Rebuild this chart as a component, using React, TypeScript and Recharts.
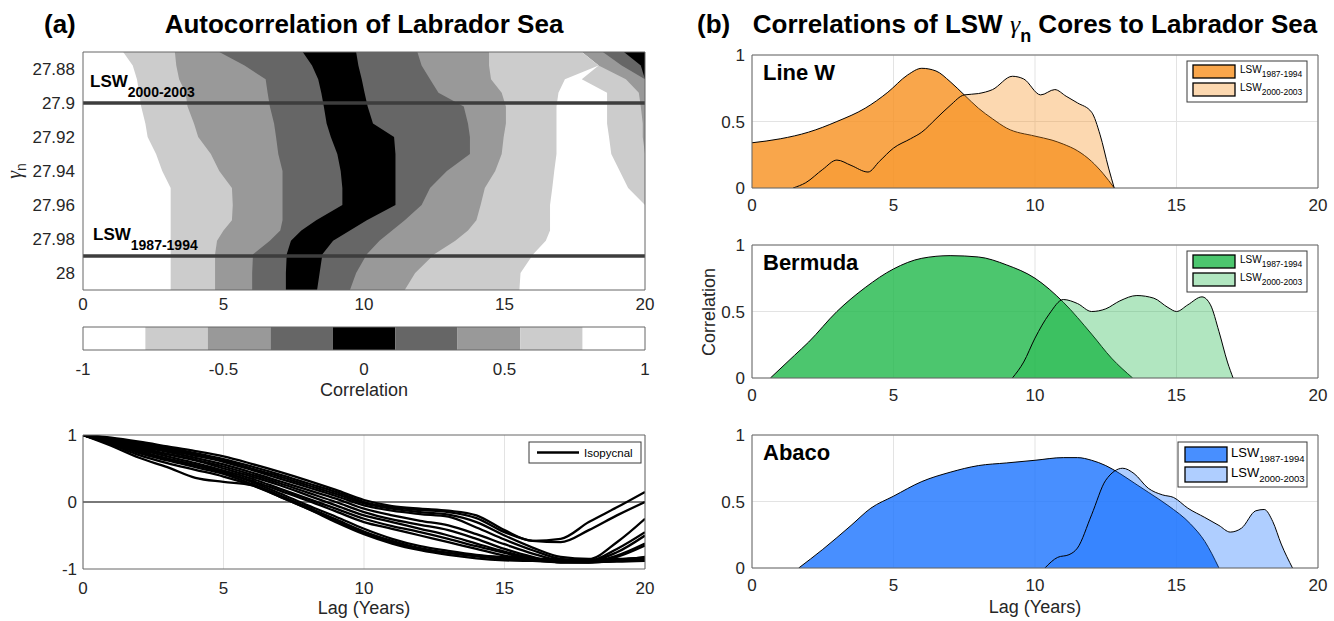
import React from 'react';
import {
  ComposedChart, LineChart, Area, Line, XAxis, YAxis,
  CartesianGrid, ReferenceLine,
} from 'recharts';

const FONT = '"Liberation Sans", Arial, Helvetica, sans-serif';
const SERIF = '"Liberation Serif", "DejaVu Serif", serif';
const FRAME = '#666666';
const INK = '#262626';
const tickFont = { fontSize: 17, fill: INK, fontFamily: FONT };

const WHITE = '#ffffff';
const LIGHT = '#cccccc';
const MID = '#999999';
const DARK = '#666666';
const BLACK = '#000000';

// ---- (a) autocorrelation contour: band edges (lag, years) along each density row ----
const gammaRows = [27.87, 27.878, 27.886, 27.894, 27.902, 27.912, 27.92, 27.93, 27.94, 27.95, 27.96, 27.969, 27.975, 27.981, 27.989, 28.0, 28.01];
const gammaTicks = [27.88, 27.9, 27.92, 27.94, 27.96, 27.98, 28];
const edgeWhiteLight = [1.43, 1.77, 1.92, 2.0, 2.07, 2.22, 2.3, 2.6, 2.82, 3.12, 3.12, 3.12, 3.12, 3.12, 3.12, 3.12, 3.12];
const edgeLightMid = [3.27, 3.32, 3.42, 3.65, 3.72, 3.95, 4.1, 4.55, 4.85, 5.3, 5.33, 5.3, 5.0, 4.77, 4.7, 4.7, 4.7];
const edgeMidDark = [4.85, 5.75, 6.5, 6.57, 6.65, 6.8, 6.87, 6.95, 7.1, 7.1, 7.1, 7.1, 7.02, 6.65, 6.05, 6.02, 6.02];
const edgeDarkBlack = [7.82, 8.15, 8.37, 8.48, 8.57, 8.67, 8.82, 9.05, 9.17, 9.23, 9.23, 8.3, 7.77, 7.4, 7.25, 7.22, 7.22];
const edgeBlackDark = [9.72, 9.8, 9.92, 10.02, 10.13, 10.32, 11.07, 11.12, 11.12, 11.12, 11.12, 10.1, 9.5, 8.9, 8.52, 8.42, 8.33];
const edgeDarkMid = [11.9, 12.05, 12.35, 12.65, 13.55, 13.7, 13.77, 13.77, 12.95, 12.35, 12.05, 11.45, 11.0, 10.55, 10.1, 9.72, 9.5];
const edgeMidLight = [14.45, 14.45, 14.52, 14.9, 15.05, 15.05, 14.97, 14.9, 14.67, 14.3, 14.15, 14.0, 13.7, 13.25, 12.5, 11.82, 11.45];
const edgeLightWhite = [17.75, 18.35, 17.15, 16.92, 16.85, 16.85, 16.85, 16.85, 16.77, 16.7, 16.62, 16.62, 16.62, 16.47, 16.02, 15.57, 15.53];
const edgeWhiteLight2 = [17.75, 18.35, 17.75, 18.65, 18.65, 18.65, 18.72, 18.8, 19.1, 19.4, 20, 20, 20, 20, 20, 20, 20];
const edgeLightMid2 = [17.75, 18.35, 19.32, 19.78, 19.85, 19.92, 19.92, 20, 20, 20, 20, 20, 20, 20, 20, 20, 20];
const edgeMidDark2 = [18.5, 19.17, 20, 20, 20, 20, 20, 20, 20, 20, 20, 20, 20, 20, 20, 20, 20];
const edgeDarkBlack2 = [19.25, 19.85, 20, 20, 20, 20, 20, 20, 20, 20, 20, 20, 20, 20, 20, 20, 20];

const contourRows = gammaRows.map((gamma, i) => ({
  gamma,
  full: 20,
  e1: edgeWhiteLight[i], e2: edgeLightMid[i], e3: edgeMidDark[i], e4: edgeDarkBlack[i],
  e5: edgeBlackDark[i], e6: edgeDarkMid[i], e7: edgeMidLight[i], e8: edgeLightWhite[i],
  e9: edgeWhiteLight2[i], e10: edgeLightMid2[i], e11: edgeMidDark2[i], e12: edgeDarkBlack2[i],
}));

// painted right-most first, each fills 0..edge with the colour left of that edge
const contourLayers = [
  { key: 'full', fill: BLACK }, { key: 'e12', fill: DARK }, { key: 'e11', fill: MID },
  { key: 'e10', fill: LIGHT }, { key: 'e9', fill: WHITE }, { key: 'e8', fill: LIGHT },
  { key: 'e7', fill: MID }, { key: 'e6', fill: DARK }, { key: 'e5', fill: BLACK },
  { key: 'e4', fill: DARK }, { key: 'e3', fill: MID }, { key: 'e2', fill: LIGHT }, { key: 'e1', fill: WHITE },
];

// colour bar: bin edges and colours
const cbEdges = [-1, -0.778, -0.556, -0.333, -0.111, 0.111, 0.333, 0.556, 0.778, 1];
const cbColors = [WHITE, LIGHT, MID, DARK, BLACK, DARK, MID, LIGHT, WHITE];
// each bin is an area defined only at its own two edges
const cbRows = cbEdges.map((x, j) => {
  const row: Record<string, number> = { x };
  if (j > 0) row[`k${j - 1}`] = 1;
  if (j < cbColors.length) row[`k${j}`] = 1;
  return row;
});

// ---- isopycnal autocorrelation lines ----
const isoLag = [0, 1, 2, 3, 4, 5, 6, 7, 8, 9, 10, 11, 12, 13, 14, 15, 16, 17, 18, 19, 20];
const isoU1 = [1, 0.96, 0.9, 0.83, 0.76, 0.68, 0.57, 0.45, 0.32, 0.18, 0.03, -0.06, -0.1, -0.13, -0.2, -0.42, -0.58, -0.55, -0.3, -0.08, 0.15];
const isoU2 = [1, 0.95, 0.88, 0.81, 0.73, 0.64, 0.53, 0.41, 0.28, 0.15, 0.0, -0.08, -0.12, -0.15, -0.24, -0.45, -0.58, -0.6, -0.42, -0.2, 0.0];
const isoU3 = [1, 0.94, 0.87, 0.79, 0.71, 0.62, 0.5, 0.38, 0.25, 0.12, -0.02, -0.1, -0.15, -0.19, -0.3, -0.5, -0.68, -0.82, -0.85, -0.6, -0.25];
const isoU4 = [1, 0.93, 0.85, 0.77, 0.69, 0.6, 0.48, 0.35, 0.22, 0.09, -0.05, -0.13, -0.18, -0.22, -0.38, -0.56, -0.72, -0.85, -0.88, -0.75, -0.5];
const isoM1 = [1, 0.92, 0.83, 0.75, 0.66, 0.56, 0.44, 0.31, 0.18, 0.05, -0.1, -0.2, -0.28, -0.35, -0.48, -0.63, -0.77, -0.87, -0.88, -0.7, -0.45];
const isoM2 = [1, 0.91, 0.81, 0.72, 0.63, 0.53, 0.41, 0.28, 0.14, 0.0, -0.15, -0.26, -0.34, -0.42, -0.55, -0.7, -0.82, -0.9, -0.9, -0.8, -0.62];
const isoM3 = [1, 0.9, 0.8, 0.71, 0.62, 0.5, 0.38, 0.25, 0.1, -0.05, -0.2, -0.3, -0.4, -0.5, -0.62, -0.74, -0.84, -0.9, -0.9, -0.82, -0.65];
const isoM4 = [1, 0.89, 0.78, 0.68, 0.58, 0.47, 0.35, 0.2, 0.05, -0.1, -0.25, -0.36, -0.45, -0.55, -0.66, -0.76, -0.86, -0.9, -0.9, -0.87, -0.82];
const isoM5 = [1, 0.88, 0.76, 0.65, 0.55, 0.44, 0.32, 0.17, 0.02, -0.14, -0.3, -0.4, -0.5, -0.6, -0.7, -0.8, -0.86, -0.89, -0.9, -0.88, -0.85];
const isoL1 = [1, 0.88, 0.75, 0.64, 0.55, 0.45, 0.3, 0.13, -0.05, -0.22, -0.4, -0.55, -0.66, -0.73, -0.79, -0.83, -0.86, -0.88, -0.89, -0.88, -0.86];
const isoL2 = [1, 0.87, 0.73, 0.62, 0.52, 0.42, 0.27, 0.1, -0.08, -0.26, -0.44, -0.58, -0.69, -0.76, -0.81, -0.85, -0.87, -0.88, -0.89, -0.88, -0.87];
const isoL3 = [1, 0.86, 0.7, 0.58, 0.48, 0.38, 0.25, 0.08, -0.1, -0.3, -0.48, -0.62, -0.72, -0.79, -0.84, -0.87, -0.88, -0.89, -0.89, -0.89, -0.88];
const isoL4 = [1, 0.84, 0.66, 0.52, 0.36, 0.3, 0.25, 0.08, -0.1, -0.28, -0.46, -0.6, -0.7, -0.76, -0.8, -0.82, -0.84, -0.86, -0.86, -0.85, -0.83];
const isoSeries = [isoU1, isoU2, isoU3, isoU4, isoM1, isoM2, isoM3, isoM4, isoM5, isoL1, isoL2, isoL3, isoL4];
const isoRows = isoLag.map((lag, i) => {
  const row: Record<string, number> = { lag };
  isoSeries.forEach((s, k) => { row[`s${k}`] = s[i]; });
  return row;
});

// ---- (b) correlation of LSW cores ----
const lineW87Lag = [0, 1, 2, 3, 4, 4.8, 5.5, 6, 6.5, 7, 7.5, 8, 8.5, 9, 10, 10.6, 11, 11.5, 12, 12.4, 12.8];
const lineW87Corr = [0.34, 0.37, 0.42, 0.5, 0.6, 0.72, 0.85, 0.9, 0.88, 0.8, 0.7, 0.6, 0.52, 0.45, 0.39, 0.36, 0.33, 0.28, 0.2, 0.11, 0];
const lineW00Lag = [1.45, 1.9, 2.5, 3, 3.5, 4.1, 4.5, 5, 5.6, 6, 6.5, 7, 7.5, 8, 8.5, 9.2, 9.6, 10.2, 10.7, 11.1, 11.5, 12, 12.3, 12.6, 12.8];
const lineW00Corr = [0, 0.04, 0.14, 0.21, 0.17, 0.12, 0.2, 0.3, 0.37, 0.42, 0.52, 0.62, 0.7, 0.71, 0.74, 0.84, 0.82, 0.7, 0.74, 0.69, 0.64, 0.57, 0.4, 0.15, 0];

const bermuda87Lag = [0.65, 1.5, 2, 3, 4, 5, 6, 7, 8, 9, 10, 11, 12, 12.7, 13.45];
const bermuda87Corr = [0, 0.17, 0.27, 0.5, 0.68, 0.82, 0.9, 0.92, 0.91, 0.85, 0.75, 0.57, 0.33, 0.15, 0];
const bermuda00Lag = [9.2, 9.6, 10, 10.5, 11, 11.5, 12, 12.5, 13, 13.6, 14.2, 14.7, 15, 15.4, 15.9, 16.2, 16.5, 16.8, 17];
const bermuda00Corr = [0, 0.12, 0.3, 0.48, 0.59, 0.56, 0.5, 0.52, 0.58, 0.62, 0.6, 0.53, 0.5, 0.55, 0.61, 0.55, 0.35, 0.12, 0];

const abaco87Lag = [1.65, 2.5, 3.5, 4.2, 5, 6, 7, 8, 9, 10, 11, 11.5, 12, 12.5, 13, 13.5, 14, 14.7, 15.5, 16, 16.5];
const abaco87Corr = [0, 0.14, 0.32, 0.45, 0.54, 0.65, 0.72, 0.77, 0.79, 0.81, 0.83, 0.83, 0.81, 0.77, 0.71, 0.64, 0.57, 0.47, 0.33, 0.2, 0];
const abaco00Lag = [10.35, 10.8, 11.2, 11.5, 12, 12.5, 13.1, 13.5, 14, 14.5, 14.9, 15.4, 16, 16.5, 16.9, 17.3, 17.8, 18.1, 18.4, 18.7, 19.1];
const abaco00Corr = [0, 0.08, 0.1, 0.15, 0.4, 0.66, 0.75, 0.71, 0.6, 0.55, 0.53, 0.45, 0.38, 0.32, 0.27, 0.3, 0.43, 0.44, 0.35, 0.18, 0];

const lagTicks = [0, 5, 10, 15, 20];
const lagMinor = [0, 1, 2, 3, 4, 5, 6, 7, 8, 9, 10, 11, 12, 13, 14, 15, 16, 17, 18, 19, 20];

function mergeSeries(aLag: number[], aVal: number[], bLag: number[], bVal: number[]) {
  const rows = new Map<number, { lag: number; a?: number; b?: number }>();
  aLag.forEach((x, i) => { const r = rows.get(x) ?? { lag: x }; r.a = aVal[i]; rows.set(x, r); });
  bLag.forEach((x, i) => { const r = rows.get(x) ?? { lag: x }; r.b = bVal[i]; rows.set(x, r); });
  return [...rows.values()].sort((p, q) => p.lag - q.lag);
}

const panels = [
  { name: 'Line W', top: 55, color: '#f7901e', rows: mergeSeries(lineW87Lag, lineW87Corr, lineW00Lag, lineW00Corr), big: false },
  { name: 'Bermuda', top: 245, color: '#1fb84a', rows: mergeSeries(bermuda87Lag, bermuda87Corr, bermuda00Lag, bermuda00Corr), big: false },
  { name: 'Abaco', top: 435, color: '#1a73ff', rows: mergeSeries(abaco87Lag, abaco87Corr, abaco00Lag, abaco00Corr), big: true },
];

function ContourChart() {
  return (
    <ComposedChart layout="vertical" width={660} height={280} data={contourRows}
      margin={{ top: 12, right: 15, bottom: 0, left: 0 }}>
      {contourLayers.map((l) => (
        <Area key={l.key} dataKey={l.key} type="linear" fill={l.fill} fillOpacity={1}
          stroke="none" baseValue={0} isAnimationActive={false} />
      ))}
      <ReferenceLine y={27.9} stroke="#3d3d3d" strokeWidth={3.5} />
      <ReferenceLine y={27.99} stroke="#3d3d3d" strokeWidth={3.5} />
      <XAxis type="number" domain={[0, 20]} ticks={lagTicks} height={30} tickLine={false} tickSize={0}
        tickMargin={8} axisLine={{ stroke: FRAME }} tick={tickFont} allowDataOverflow />
      <XAxis xAxisId="t" orientation="top" type="number" domain={[0, 20]} ticks={lagTicks} mirror
        tick={false} tickSize={6} stroke={FRAME} allowDataOverflow />
      <XAxis xAxisId="bm" orientation="bottom" type="number" domain={[0, 20]} ticks={lagTicks} mirror
        tick={false} tickSize={6} axisLine={false} stroke={FRAME} allowDataOverflow />
      <YAxis type="number" dataKey="gamma" domain={[27.87, 28.01]} ticks={gammaTicks} width={83}
        tickLine={false} tickSize={0} tickMargin={8} axisLine={{ stroke: FRAME }} tick={tickFont} allowDataOverflow />
      <YAxis yAxisId="r" orientation="right" type="number" domain={[27.87, 28.01]} ticks={gammaTicks}
        mirror tick={false} tickSize={6} stroke={FRAME} allowDataOverflow />
      <YAxis yAxisId="lm" orientation="left" type="number" domain={[27.87, 28.01]} ticks={gammaTicks}
        mirror tick={false} tickSize={6} axisLine={false} stroke={FRAME} allowDataOverflow />
    </ComposedChart>
  );
}

function ColorBar() {
  return (
    <ComposedChart width={660} height={60} data={cbRows} margin={{ top: 7, right: 15, left: 0, bottom: 0 }}>
      {cbColors.map((fill, i) => (
        <Area key={i} dataKey={`k${i}`} type="linear" fill={fill} fillOpacity={1} stroke="none"
          isAnimationActive={false} />
      ))}
      <XAxis dataKey="x" type="number" domain={[-1, 1]} ticks={[-1, -0.5, 0, 0.5, 1]} height={30}
        tickLine={false} tickSize={0} tickMargin={13} axisLine={{ stroke: FRAME }} tick={tickFont} allowDataOverflow />
      <XAxis xAxisId="numTop" orientation="top" type="number" domain={[-1, 1]} ticks={[-0.5, 0, 0.5]} mirror
        tick={false} tickSize={4} stroke={FRAME} allowDataOverflow />
      <XAxis xAxisId="numBm" orientation="bottom" type="number" domain={[-1, 1]} ticks={[-0.5, 0, 0.5]} mirror
        tick={false} tickSize={4} axisLine={false} stroke={FRAME} allowDataOverflow />
      <YAxis domain={[0, 1]} width={83} tick={false} tickLine={false} axisLine={{ stroke: FRAME }} allowDataOverflow />
      <YAxis yAxisId="r" orientation="right" domain={[0, 1]} mirror tick={false} tickLine={false}
        axisLine={{ stroke: FRAME }} allowDataOverflow />
    </ComposedChart>
  );
}

function IsoChart() {
  return (
    <LineChart width={660} height={175} data={isoRows} margin={{ top: 10, right: 15, left: 0, bottom: 0 }}>
      <CartesianGrid horizontal={false} stroke="#e3e3e3" />
      <ReferenceLine y={0} stroke="#4d4d4d" strokeWidth={1.4} />
      {isoSeries.map((_, k) => (
        <Line key={k} dataKey={`s${k}`} type="monotone" stroke="#000" strokeWidth={2.3} dot={false}
          isAnimationActive={false} />
      ))}
      <XAxis dataKey="lag" type="number" domain={[0, 20]} ticks={lagTicks} height={31} tickLine={false}
        tickSize={0} tickMargin={13} axisLine={{ stroke: FRAME }} tick={tickFont} allowDataOverflow />
      <XAxis xAxisId="t" orientation="top" type="number" domain={[0, 20]} ticks={lagTicks} mirror
        tick={false} tickSize={5} stroke={FRAME} allowDataOverflow />
      <XAxis xAxisId="bm" orientation="bottom" type="number" domain={[0, 20]} ticks={lagTicks} mirror
        tick={false} tickSize={5} axisLine={false} stroke={FRAME} allowDataOverflow />
      <YAxis domain={[-1, 1]} ticks={[-1, 0, 1]} width={83} tickLine={false} tickSize={0} tickMargin={6}
        axisLine={{ stroke: FRAME }} tick={tickFont} allowDataOverflow />
      <YAxis yAxisId="r" orientation="right" domain={[-1, 1]} ticks={[-1, 0, 1]} mirror tick={false}
        tickSize={5} stroke={FRAME} allowDataOverflow />
    </LineChart>
  );
}

function CorrPanel({ rows, color }: { rows: any[]; color: string }) {
  return (
    <ComposedChart width={650} height={175} data={rows} margin={{ top: 10, right: 12, left: 0, bottom: 0 }}>
      <CartesianGrid stroke="#e3e3e3" />
      <Area dataKey="a" type="monotone" fill={color} fillOpacity={0.8} stroke="#000" strokeWidth={1}
        connectNulls isAnimationActive={false} />
      <Area dataKey="b" type="monotone" fill={color} fillOpacity={0.35} stroke="#000" strokeWidth={1}
        connectNulls isAnimationActive={false} />
      <XAxis dataKey="lag" type="number" domain={[0, 20]} ticks={lagTicks} height={32} tickLine={false}
        tickSize={0} tickMargin={11} axisLine={{ stroke: FRAME }} tick={tickFont} allowDataOverflow />
      <XAxis xAxisId="t" orientation="top" type="number" domain={[0, 20]} ticks={lagMinor} mirror
        tick={false} tickSize={5} stroke={FRAME} allowDataOverflow />
      <XAxis xAxisId="bm" orientation="bottom" type="number" domain={[0, 20]} ticks={lagMinor} mirror
        tick={false} tickSize={5} axisLine={false} stroke={FRAME} allowDataOverflow />
      <YAxis domain={[0, 1]} ticks={[0, 0.5, 1]} width={72} tickLine={false} tickSize={0} tickMargin={7}
        axisLine={{ stroke: FRAME }} tick={tickFont} allowDataOverflow />
      <YAxis yAxisId="r" orientation="right" domain={[0, 1]} ticks={[0, 0.5, 1]} mirror tick={false}
        tickSize={5} stroke={FRAME} allowDataOverflow />
      <YAxis yAxisId="lm" orientation="left" domain={[0, 1]} ticks={[0, 0.5, 1]} mirror tick={false}
        tickSize={5} axisLine={false} stroke={FRAME} allowDataOverflow />
    </ComposedChart>
  );
}

function PanelLegend({ top, color, big }: { top: number; color: string; big: boolean }) {
  const x = big ? 1178 : 1187;
  const w = big ? 129 : 120;
  const h = big ? 45 : 41;
  const by = top + (big ? 7 : 6);
  const sx = big ? 1185 : 1193;
  const sh = big ? 15 : 13;
  const s1 = top + (big ? 12 : 10);
  const s2 = top + (big ? 32 : 28);
  const tx = big ? 1231 : 1240;
  const fs = big ? 13 : 10;
  const sfs = big ? 9.5 : 8.5;
  const t1 = top + (big ? 22 : 18);
  const t2 = top + (big ? 42 : 36);
  const sub = big ? 4.5 : 3.5;
  return (
    <g>
      <rect x={x} y={by} width={w} height={h} fill="#fff" stroke="#3a3a3a" strokeWidth={1} />
      <rect x={sx} y={s1} width={42} height={sh} fill={color} fillOpacity={0.8} stroke="#000" strokeWidth={1.3} />
      <rect x={sx} y={s2} width={42} height={sh} fill={color} fillOpacity={0.35} stroke="#000" strokeWidth={1.3} />
      <text x={tx} y={t1} fontSize={fs} fill="#000">LSW<tspan fontSize={sfs} dy={sub}>1987-1994</tspan></text>
      <text x={tx} y={t2} fontSize={fs} fill="#000">LSW<tspan fontSize={sfs} dy={sub}>2000-2003</tspan></text>
    </g>
  );
}

function Overlay() {
  return (
    <svg width={1334} height={621} style={{ position: 'absolute', left: 0, top: 0, pointerEvents: 'none' }}
      fontFamily={FONT}>
      <text x={44} y={33} fontSize={26} fontWeight="bold">(a)</text>
      <text x={364} y={33} fontSize={26} fontWeight="bold" textAnchor="middle">Autocorrelation of Labrador Sea</text>
      <text x={697} y={33} fontSize={26} fontWeight="bold">(b)</text>
      <text x={1035} y={33} fontSize={26} fontWeight="bold" textAnchor="middle">
        Correlations of LSW <tspan fontFamily={SERIF} fontStyle="italic" fontWeight="normal">γ</tspan>
        <tspan fontSize={18} dy={9}>n</tspan><tspan dy={-9}> Cores to Labrador Sea</tspan>
      </text>

      <text transform="translate(21,171) rotate(-90)" textAnchor="middle" fontSize={20} fill={INK}>
        <tspan fontFamily={SERIF} fontStyle="italic">γ</tspan><tspan fontSize={14} dy={5}>n</tspan>
      </text>
      <text x={90} y={87} fontSize={17} fontWeight="bold">LSW<tspan fontSize={14} dy={10}>2000-2003</tspan></text>
      <text x={93} y={240} fontSize={17} fontWeight="bold">LSW<tspan fontSize={14} dy={10}>1987-1994</tspan></text>
      <text x={364} y={396} fontSize={18} textAnchor="middle" fill={INK}>Correlation</text>

      <rect x={529} y={442} width={112} height={21} fill="#fff" stroke="#3a3a3a" strokeWidth={1} />
      <line x1={537} x2={579} y1={452.5} y2={452.5} stroke="#000" strokeWidth={2.5} />
      <text x={584} y={456.5} fontSize={11.5} fill="#000">Isopycnal</text>
      <text x={364} y={614} fontSize={18} textAnchor="middle" fill={INK}>Lag (Years)</text>

      {panels.map((p) => (
        <g key={p.name}>
          <text x={763} y={p.top + 25} fontSize={22} fontWeight="bold" fill="#000">{p.name}</text>
          <PanelLegend top={p.top} color={p.color} big={p.big} />
        </g>
      ))}
      <text transform="translate(715,312) rotate(-90)" textAnchor="middle" fontSize={18} fill={INK}>Correlation</text>
      <text x={1035} y={613} fontSize={18} textAnchor="middle" fill={INK}>Lag (Years)</text>
    </svg>
  );
}

export default function App() {
  return (
    <div style={{ position: 'absolute', left: 0, top: 0, width: 1334, height: 621, background: '#fff',
      fontFamily: FONT, overflow: 'hidden' }}>
      <div style={{ position: 'absolute', left: 0, top: 40 }}><ContourChart /></div>
      <div style={{ position: 'absolute', left: 0, top: 320 }}><ColorBar /></div>
      <div style={{ position: 'absolute', left: 0, top: 425 }}><IsoChart /></div>
      {panels.map((p) => (
        <div key={p.name} style={{ position: 'absolute', left: 680, top: p.top - 10 }}>
          <CorrPanel rows={p.rows} color={p.color} />
        </div>
      ))}
      <Overlay />
    </div>
  );
}
